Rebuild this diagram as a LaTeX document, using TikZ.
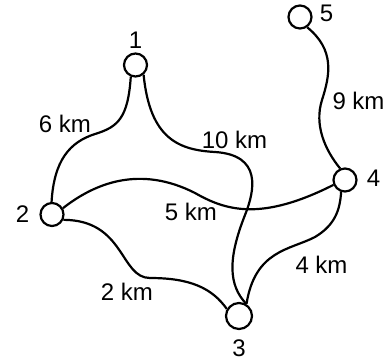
\documentclass[tikz,border=0pt]{standalone}
\usepackage{fontspec}
\setmainfont{Liberation Sans}
\begin{document}
\begin{tikzpicture}[
  x=1pt, y=-1pt,
  every node/.style={font=\fontsize{24}{28}\selectfont},
  town/.style={draw, circle, line width=2.2pt, minimum size=23pt, inner sep=0pt},
  road/.style={line width=2.2pt},
  dist/.style={inner sep=0pt},
  every label/.style={inner sep=0pt},
]
  \useasboundingbox (0,0) rectangle (388,362);

  % Towns
  \node[town, label={[label distance=3.5pt]above:1}] (t1) at (135.5,65) {};
  \node[town, label={[label distance=10pt]left:2}] (t2) at (52,214.5) {};
  \node[town, minimum size=26pt, label={[label distance=9pt]below:3}] (t3) at (239,316) {};
  \node[town, label={[label distance=9pt, yshift=2pt]right:4}] (t4) at (345,180) {};
  \node[town, label={[label distance=7pt, yshift=4pt]right:5}] (t5) at (300,17) {};

  % Roads
  \draw[road] (t1.-112) .. controls (128,118) and (118,127) .. (95,134)
    .. controls (70,142) and (54,160) .. (t2.92);
  \draw[road] (t1.-50) .. controls (150,140) and (180,150) .. (215,152)
    .. controls (262,155) and (255,190) .. (245,215)
    .. controls (228,258) and (228,285) .. (t3.58);
  \draw[road] (t2.30) .. controls (95,183) and (140,165) .. (195,193)
    .. controls (225,210) and (260,222) .. (t4.203);
  \draw[road] (t2.-25) .. controls (125,220) and (120,278) .. (150,278)
    .. controls (190,278) and (212,288) .. (t3.150);
  \draw[road] (t3.58) .. controls (255,250) and (290,250) .. (315,237)
    .. controls (335,225) and (340,210) .. (t4.-108);
  \draw[road] (t5.-55) .. controls (335,50) and (330,75) .. (322,100)
    .. controls (314,125) and (325,150) .. (t4.113);

  % Distances
  \node[dist] (d12) at (65,124) {6 km};
  \node[dist] (d13) at (234.5,139.5) {10 km};
  \node[dist] (d24) at (191,211.5) {5 km};
  \node[dist] (d23) at (127,291.5) {2 km};
  \node[dist] (d34) at (321.5,265) {4 km};
  \node[dist] (d45) at (358.5,101) {9 km};
\end{tikzpicture}
\end{document}
